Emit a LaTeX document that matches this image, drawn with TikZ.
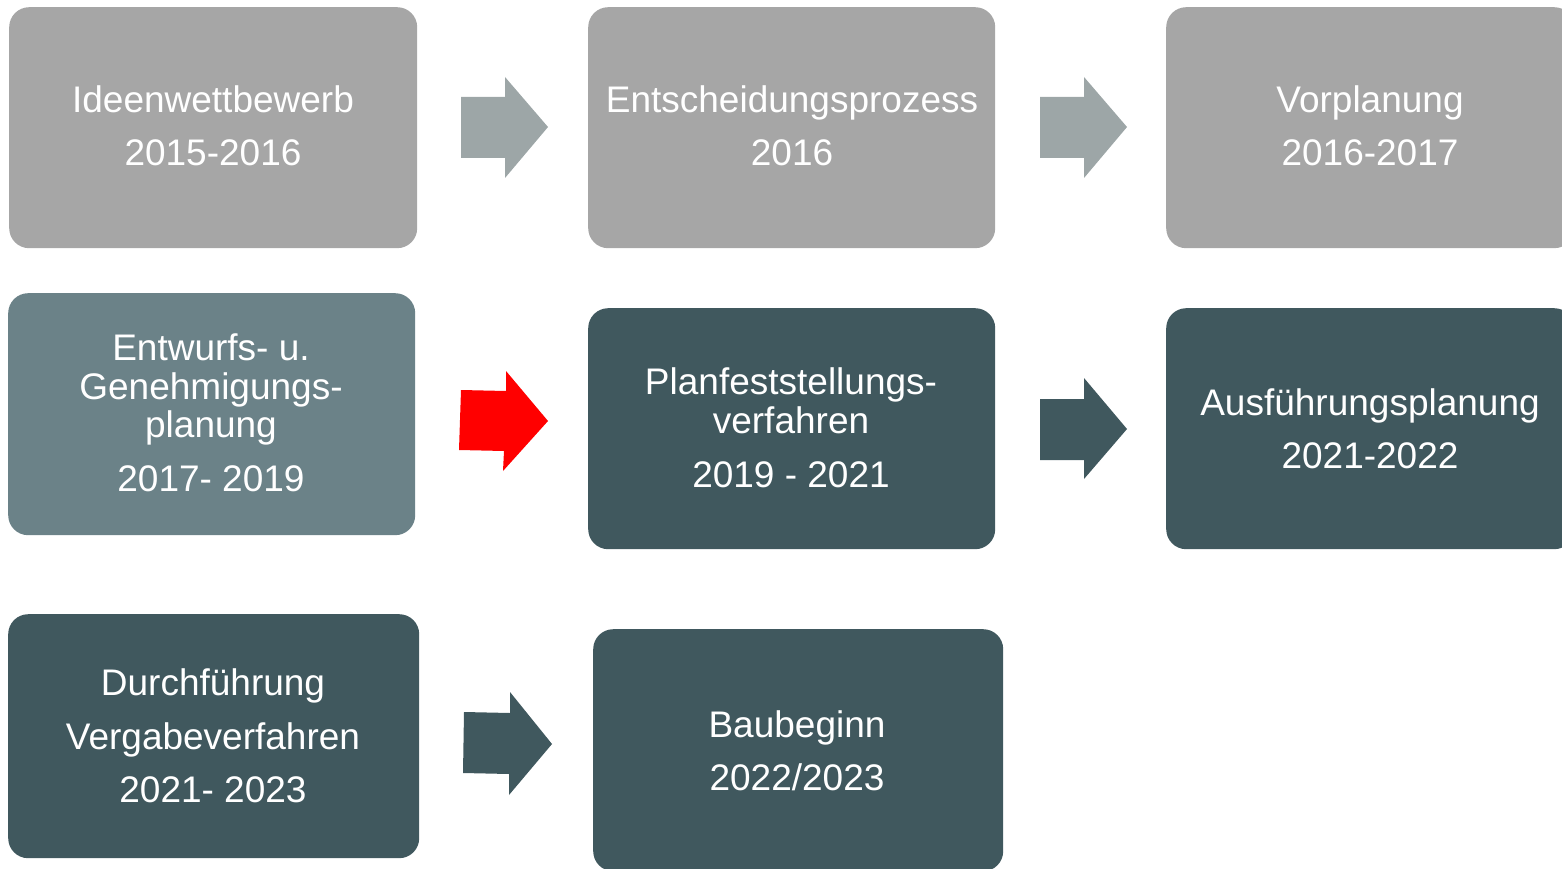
\documentclass[tikz,border=0pt]{standalone}
\usepackage{fontspec}
\setmainfont{Liberation Sans}
\definecolor{boxgrey}{HTML}{A6A6A6}
\definecolor{arrgrey}{HTML}{9DA6A7}
\definecolor{boxslate}{HTML}{6B8288}
\definecolor{boxdark}{HTML}{40585E}
\definecolor{arrred}{HTML}{FF0000}
\begin{document}
\begin{tikzpicture}[x=1pt,y=-1pt,
  box/.style={rectangle, rounded corners=20pt, inner sep=0pt, anchor=north west, draw=none},
  txt/.style={anchor=base, inner sep=0pt, text=white, font=\fontsize{37}{44}\selectfont}]
\useasboundingbox (0,0) rectangle (1562,869);
\clip (0,0) rectangle (1562,869);
% boxes
\node[box, fill=boxgrey, minimum width=408pt, minimum height=241pt] (b1) at (9,7) {};
\node[box, fill=boxgrey, minimum width=407pt, minimum height=241pt] (b2) at (588,7) {};
\node[box, fill=boxgrey, minimum width=408pt, minimum height=241pt] (b3) at (1166,7) {};
\node[box, fill=boxslate, minimum width=407pt, minimum height=242pt] (b4) at (8,293) {};
\node[box, fill=boxdark, minimum width=407pt, minimum height=241pt] (b5) at (588,308) {};
\node[box, fill=boxdark, minimum width=408pt, minimum height=241pt] (b6) at (1166,308) {};
\node[box, fill=boxdark, minimum width=411pt, minimum height=244pt] (b7) at (8,614) {};
\node[box, fill=boxdark, minimum width=410pt, minimum height=242pt] (b8) at (593,629) {};
% texts
\node[txt] (t1a) at (213,113) {Ideenwettbewerb};
\node[txt] (t1b) at (213,166) {2015-2016};
\node[txt] (t2a) at (792,113) {Entscheidungsprozess};
\node[txt] (t2b) at (792,166) {2016};
\node[txt] (t3a) at (1370,113) {Vorplanung};
\node[txt] (t3b) at (1370,166) {2016-2017};
\node[txt] (t4a) at (211,360) {Entwurfs- u.};
\node[txt] (t4b) at (211,399) {Genehmigungs-};
\node[txt] (t4c) at (211,437) {planung};
\node[txt] (t4d) at (211,491) {2017- 2019};
\node[txt] (t5a) at (791,394) {Planfeststellungs-};
\node[txt] (t5b) at (791,433) {verfahren};
\node[txt] (t5c) at (791,487) {2019 - 2021};
\node[txt] (t6a) at (1370,415) {Ausführungsplanung};
\node[txt] (t6b) at (1370,468) {2021-2022};
\node[txt] (t7a) at (213,695) {Durchführung};
\node[txt] (t7b) at (213,749) {Vergabeverfahren};
\node[txt] (t7c) at (213,802) {2021- 2023};
\node[txt] (t8a) at (797,737) {Baubeginn};
\node[txt] (t8b) at (797,790) {2022/2023};
% block arrows
\fill[arrgrey] (461,97) -- (505,97) -- (505,77) -- (548,127) -- (505,178) -- (505,158) -- (461,158) -- cycle;
\fill[arrgrey] (1040,97) -- (1084,97) -- (1084,77) -- (1127,127) -- (1084,178) -- (1084,158) -- (1040,158) -- cycle;
\fill[arrred] (461,390) -- (506,391) -- (506,371) -- (548,421) -- (503,471) -- (504,451) -- (459,450) -- cycle;
\fill[boxdark] (1040,399) -- (1084,399) -- (1084,378) -- (1127,429) -- (1084,479) -- (1084,460) -- (1040,460) -- cycle;
\fill[boxdark] (464,712) -- (510,713) -- (510,692) -- (552,744) -- (509,795) -- (509,774) -- (463,773) -- cycle;
\end{tikzpicture}
\end{document}
